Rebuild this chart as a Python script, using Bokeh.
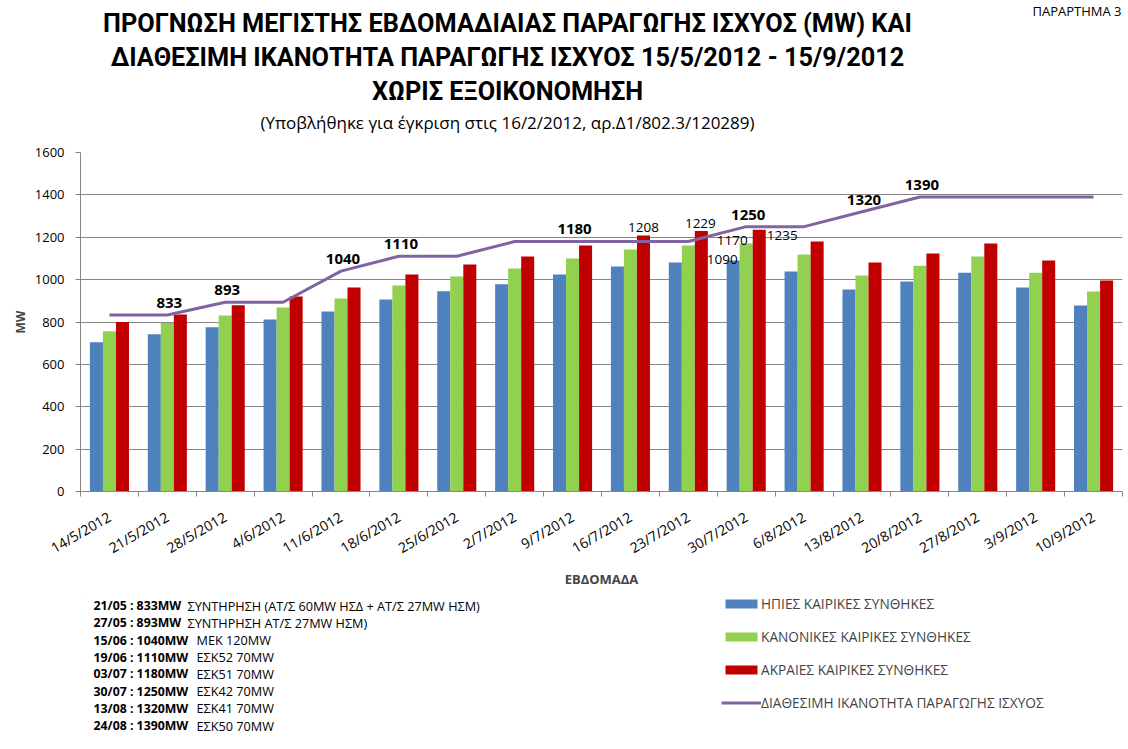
import math
from bokeh.plotting import figure
from bokeh.layouts import column
from bokeh.models import (ColumnDataSource, FixedTicker, LabelSet, Label, Legend,
                          LegendItem, Range1d)
from bokeh.transform import dodge
from bokeh.core.properties import value
from bokeh.embed import file_html
from bokeh.resources import INLINE

# ---------------- data ----------------
weeks = ["14/5/2012", "21/5/2012", "28/5/2012", "4/6/2012", "11/6/2012", "18/6/2012",
         "25/6/2012", "2/7/2012", "9/7/2012", "16/7/2012", "23/7/2012", "30/7/2012",
         "6/8/2012", "13/8/2012", "20/8/2012", "27/8/2012", "3/9/2012", "10/9/2012"]
mild = [705, 742, 775, 812, 850, 906, 945, 978, 1024, 1062, 1081, 1090,
        1038, 953, 991, 1033, 963, 878]
normal = [756, 795, 831, 868, 911, 972, 1015, 1052, 1100, 1142, 1161, 1170,
          1118, 1019, 1066, 1109, 1033, 944]
extreme = [800, 835, 879, 920, 963, 1024, 1071, 1109, 1161, 1208, 1229, 1235,
           1180, 1081, 1123, 1170, 1090, 996]
capacity = [833, 833, 893, 893, 1040, 1110, 1110, 1180, 1180, 1180, 1180, 1250,
            1250, 1320, 1390, 1390, 1390, 1390]
y_ticks = [0, 200, 400, 600, 800, 1000, 1200, 1400, 1600]

series_names = ["ΗΠΙΕΣ ΚΑΙΡΙΚΕΣ ΣΥΝΘΗΚΕΣ", "ΚΑΝΟΝΙΚΕΣ ΚΑΙΡΙΚΕΣ ΣΥΝΘΗΚΕΣ",
                "ΑΚΡΑΙΕΣ ΚΑΙΡΙΚΕΣ ΣΥΝΘΗΚΕΣ", "ΔΙΑΘΕΣΙΜΗ ΙΚΑΝΟΤΗΤΑ ΠΑΡΑΓΩΓΗΣ ΙΣΧΥΟΣ"]

# weeks whose capacity value is labelled
capacity_label_weeks = [1, 2, 4, 5, 8, 11, 13, 14]
# labelled bars: (week index, series)
bar_label_points = [(9, "extreme"), (10, "extreme"), (11, "mild"), (11, "normal"), (11, "extreme")]

note_dates = ["21/05", "27/05", "15/06", "19/06", "03/07", "30/07", "13/08", "24/08"]
note_mw = [833, 893, 1040, 1110, 1180, 1250, 1320, 1390]
note_desc = ["ΣΥΝΤΗΡΗΣΗ  (ΑΤ/Σ  60MW ΗΣΔ + ΑΤ/Σ 27MW ΗΣΜ)", "ΣΥΝΤΗΡΗΣΗ  ΑΤ/Σ 27MW ΗΣΜ)",
             "ΜΕΚ 120MW", "ΕΣΚ52  70MW", "ΕΣΚ51  70MW", "ΕΣΚ42  70MW",
             "ΕΣΚ41  70MW", "ΕΣΚ50  70MW"]

title_lines = ["ΠΡΟΓΝΩΣΗ ΜΕΓΙΣΤΗΣ ΕΒΔΟΜΑΔΙΑΙΑΣ ΠΑΡΑΓΩΓΗΣ ΙΣΧΥΟΣ (MW) ΚΑΙ",
               "ΔΙΑΘΕΣΙΜΗ ΙΚΑΝΟΤΗΤΑ ΠΑΡΑΓΩΓΗΣ ΙΣΧΥΟΣ 15/5/2012 - 15/9/2012",
               "ΧΩΡΙΣ ΕΞΟΙΚΟΝΟΜΗΣΗ"]
subtitle = "(Υποβλήθηκε για έγκριση στις 16/2/2012, αρ.Δ1/802.3/120289)"
annex = "ΠΑΡΑΡΤΗΜΑ 3"

# ---------------- style ----------------
FONT = "Open Sans"
TITLE_FONT = "Roboto"
C_BLUE, C_GREEN, C_RED, C_PURPLE = "#4F81BD", "#92D050", "#C00000", "#8064A2"
GRAY = "#868686"
W = 1124
TOP_H, MAIN_H, BOT_H = 142, 450, 153
BL, BR = 80, 2                      # side borders shared by all three panels
FX0, FX1 = BL, W - BR               # frame x extent in page pixels
MAIN_TOP_BORDER = 10


def blank(height, y_top):
    # panel whose frame spans the chart's horizontal extent; data units = page pixels
    f = figure(width=W, height=height, x_range=Range1d(FX0, FX1),
               y_range=Range1d(y_top + height, y_top),
               output_backend="svg", toolbar_location=None,
               x_axis_location=None, y_axis_location=None,
               min_border_left=BL, min_border_right=BR, min_border_top=0, min_border_bottom=0)
    f.grid.visible = False
    f.outline_line_color = None
    return f


# ---------------- header ----------------
top = blank(TOP_H, 0)
for line, yy in zip(title_lines, [23, 57, 91]):
    top.add_layout(Label(x=507, y=yy, text=line, text_align="center",
                         text_baseline="middle", text_font=TITLE_FONT,
                         text_font_size="25.3px", text_font_style="bold", text_color="black"))
top.add_layout(Label(x=507, y=122, text=subtitle, text_align="center",
                     text_baseline="middle", text_font=FONT, text_font_size="17px",
                     text_color="black"))
top.add_layout(Label(x=FX1 - 1, y=10, text=annex, text_align="right",
                     text_baseline="middle", text_font=FONT, text_font_size="13px",
                     text_color="black"))

# ---------------- main chart ----------------
n = len(weeks)
idx = list(range(n))
src = ColumnDataSource(dict(x=idx, week=weeks, mild=mild, normal=normal,
                            extreme=extreme, capacity=capacity))

p = figure(width=W, height=MAIN_H, x_range=Range1d(-0.5, n - 0.5), y_range=Range1d(0, 1600),
           output_backend="svg", toolbar_location=None,
           min_border_left=BL, min_border_right=BR, min_border_top=MAIN_TOP_BORDER,
           min_border_bottom=MAIN_H - 339 - MAIN_TOP_BORDER)
p.outline_line_color = None

BW = 0.225
r_mild = p.vbar(x=dodge("x", -BW, range=p.x_range), top="mild", width=BW, source=src,
                fill_color=C_BLUE, line_color=None)
r_norm = p.vbar(x=dodge("x", 0, range=p.x_range), top="normal", width=BW, source=src,
                fill_color=C_GREEN, line_color=None)
r_ext = p.vbar(x=dodge("x", BW, range=p.x_range), top="extreme", width=BW, source=src,
               fill_color=C_RED, line_color=None)
r_cap = p.line(x="x", y="capacity", source=src, line_color=C_PURPLE, line_width=3)

xa = p.xaxis[0]
xa.ticker = FixedTicker(ticks=idx, minor_ticks=[i - 0.5 for i in range(n + 1)])
xa.major_label_overrides = {i: w for i, w in enumerate(weeks)}
xa.major_label_orientation = math.pi / 6
xa.major_tick_line_color = None
xa.major_tick_out = 0
xa.major_tick_in = 0
xa.minor_tick_out = 5
xa.minor_tick_in = 0
xa.minor_tick_line_color = GRAY
xa.axis_line_color = GRAY
xa.major_label_text_font = FONT
xa.major_label_text_font_size = "14px"
xa.major_label_text_color = "black"
xa.major_label_standoff = 19
xa.axis_label = "ΕΒΔΟΜΑΔΑ"
xa.axis_label_text_font = FONT
xa.axis_label_text_font_style = "bold"
xa.axis_label_text_font_size = "13px"
xa.axis_label_standoff = 2

ya = p.yaxis[0]
ya.ticker = FixedTicker(ticks=y_ticks, minor_ticks=[])
ya.major_tick_out = 5
ya.major_tick_in = 0
ya.major_tick_line_color = GRAY
ya.minor_tick_line_color = None
ya.axis_line_color = GRAY
ya.major_label_text_font = FONT
ya.major_label_text_font_size = "13px"
ya.major_label_text_color = "black"
ya.major_label_standoff = 11
ya.axis_label = "MW"
ya.axis_label_text_font = FONT
ya.axis_label_text_font_style = "bold"
ya.axis_label_text_font_size = "12px"
ya.axis_label_standoff = 3

p.xgrid.visible = False
p.ygrid.ticker = FixedTicker(ticks=y_ticks)
p.ygrid.grid_line_color = GRAY
p.ygrid.grid_line_width = 1

cap_src = ColumnDataSource(dict(x=[i for i in capacity_label_weeks],
                                y=[capacity[i] for i in capacity_label_weeks],
                                t=[str(capacity[i]) for i in capacity_label_weeks]))
p.add_layout(LabelSet(x="x", y="y", text="t", source=cap_src, x_offset=2, y_offset=12,
                      text_align="center", text_baseline="middle",
                      text_font=value(FONT), text_font_size="15px", text_font_style="bold",
                      text_color="black"))

series_vals = {"mild": mild, "normal": normal, "extreme": extreme}
series_dx = {"mild": -BW, "normal": 0.0, "extreme": BW}
bar_label_dx = [0, -1, -11, -14, 23]
bar_label_dy = [8, 8, 1, 3, -6]
bl_src = ColumnDataSource(dict(
    x=[i + series_dx[s] for i, s in bar_label_points],
    y=[series_vals[s][i] for i, s in bar_label_points],
    t=[str(series_vals[s][i]) for i, s in bar_label_points],
    dx=bar_label_dx, dy=bar_label_dy))
p.add_layout(LabelSet(x="x", y="y", text="t", source=bl_src, x_offset="dx", y_offset="dy",
                      text_align="center", text_baseline="middle",
                      text_font=value(FONT), text_font_size="13.5px", text_color="black"))

# ---------------- footer: notes + legend ----------------
BOT_Y = TOP_H + MAIN_H
bot = blank(BOT_H, BOT_Y)

note_y = [605, 622.3, 639.7, 656.7, 673.3, 690.7, 707.7, 725]
nb_src = ColumnDataSource(dict(
    x=[93] * len(note_dates), y=note_y,
    t=[f"{d} : {m}MW" for d, m in zip(note_dates, note_mw)]))
bot.add_layout(LabelSet(x="x", y="y", text="t", source=nb_src,
                        text_align="left", text_baseline="middle", text_font=value(FONT),
                        text_font_size="12.3px", text_font_style="bold", text_color="black"))
nn_src = ColumnDataSource(dict(
    x=[187 if m < 1000 else 196 for m in note_mw], y=note_y, t=note_desc))
bot.add_layout(LabelSet(x="x", y="y", text="t", source=nn_src,
                        text_align="left", text_baseline="middle", text_font=value(FONT),
                        text_font_size="12.7px", text_color="black"))

# legend keys: renderers whose single datum lies outside the visible panel
k1 = bot.vbar(x=[0], top=[0], bottom=[0], width=0, fill_color=C_BLUE, line_color=None)
k2 = bot.vbar(x=[0], top=[0], bottom=[0], width=0, fill_color=C_GREEN, line_color=None)
k3 = bot.vbar(x=[0], top=[0], bottom=[0], width=0, fill_color=C_RED, line_color=None)
k4 = bot.line(x=[0, 0], y=[0, 0], line_color=C_PURPLE, line_width=3)
legend = Legend(items=[LegendItem(label=series_names[0], renderers=[k1]),
                       LegendItem(label=series_names[1], renderers=[k2]),
                       LegendItem(label=series_names[2], renderers=[k3]),
                       LegendItem(label=series_names[3], renderers=[k4])],
                location=(721 - FX0, BOT_Y + BOT_H - 712), orientation="vertical",
                glyph_width=40, glyph_height=11, label_height=20, spacing=13,
                padding=0, margin=0, border_line_color=None, background_fill_alpha=0,
                label_text_font=FONT, label_text_font_size="13.7px", label_standoff=0)
bot.add_layout(legend)

layout = column(top, p, bot, spacing=0)
open("out.html", "w").write(file_html(layout, INLINE))
